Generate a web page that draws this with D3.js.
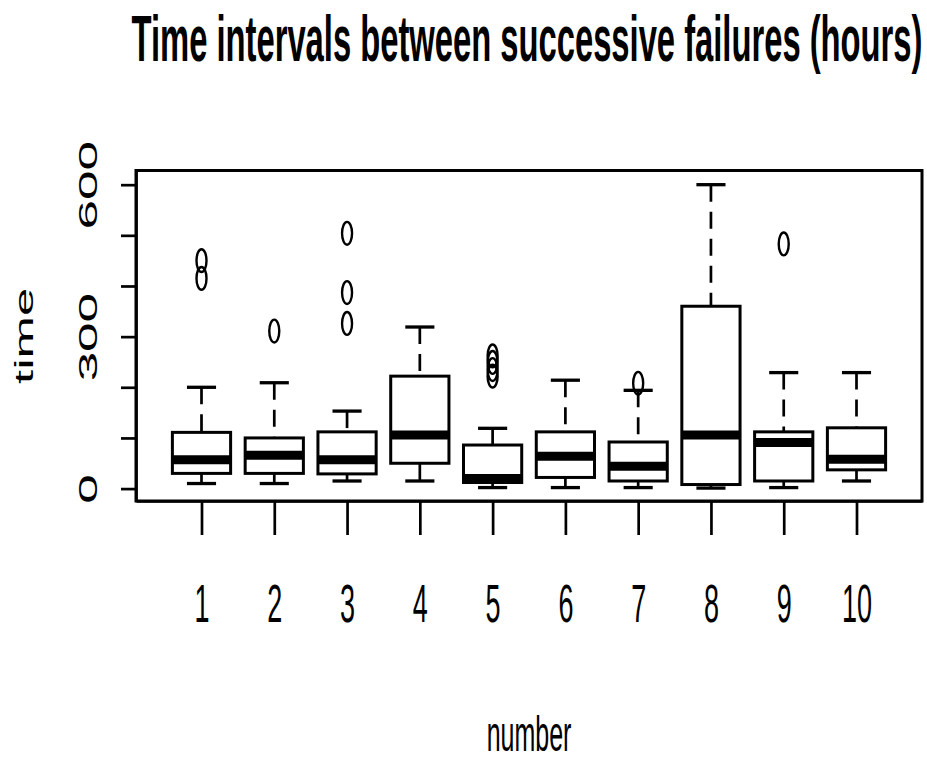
<!DOCTYPE html>
<html><head><meta charset="utf-8">
<script src="https://cdn.jsdelivr.net/npm/d3@7"></script>
<style>
body{margin:0;background:#fff}
svg{display:block}
text{font-family:"Liberation Sans",Arial,sans-serif;fill:#000}
</style></head>
<body><svg id="chart" width="927" height="762"></svg>
<script>
// ---- data ----
const groups = [1, 2, 3, 4, 5, 6, 7, 8, 9, 10];
const whiskerLow  = [10, 10, 15, 15, 2, 2, 2, 1, 2, 15];
const quartile1   = [30, 30, 29, 50, 12, 22, 15, 8, 15, 37];
const medians     = [57, 66, 57, 106, 20, 64, 44, 106, 91, 58];
const quartile3   = [111, 100, 112, 222, 86, 112, 92, 360, 112, 120];
const whiskerHigh = [200, 209, 153, 319, 119, 214, 194, 600, 229, 229];
const outliers    = [[450, 415], [311], [504, 387, 326], [], [262, 249, 235, 222], [], [208], [], [483], []];
const yTicks      = [0, 100, 200, 300, 400, 500, 600];
const yLabelTicks = [0, 300, 600];
const titleText = "Time intervals between successive failures (hours)";
const xTitle = "number";
const yTitle = "time";

// ---- layout ----
const squeeze = 0.5;               // horizontal compression of glyphs
const svg = d3.select("#chart");
const x = d3.scaleLinear().domain([0.1, 10.9]).range([136, 922]);
const y = d3.scaleLinear().domain([-24.5, 628]).range([501, 170.5]);
const boxHalf = 0.4, capHalf = 0.2;
const lw = 2.7;

const data = groups.map((g, i) => ({
  g, lo: whiskerLow[i], q1: quartile1[i], med: medians[i], q3: quartile3[i], hi: whiskerHigh[i], out: outliers[i]
}));

// frame
svg.append("rect")
  .attr("x", x(0.1)).attr("y", y(628))
  .attr("width", x(10.9) - x(0.1)).attr("height", y(-24.5) - y(628))
  .attr("fill", "none").attr("stroke", "#000").attr("stroke-width", 3);

const gb = svg.append("g").attr("fill", "none").attr("stroke", "#000");
const b = gb.selectAll("g.box").data(data).join("g").attr("class", "box");

// whiskers (dashed), drawn from the extreme toward the box
b.append("line")
  .attr("x1", d => x(d.g)).attr("x2", d => x(d.g))
  .attr("y1", d => y(d.hi)).attr("y2", d => y(d.q3))
  .attr("stroke-width", lw).attr("stroke-dasharray", "17,10");
b.append("line")
  .attr("x1", d => x(d.g)).attr("x2", d => x(d.g))
  .attr("y1", d => y(d.lo)).attr("y2", d => y(d.q1))
  .attr("stroke-width", lw).attr("stroke-dasharray", "17,10");
// staples
b.append("line")
  .attr("x1", d => x(d.g - capHalf)).attr("x2", d => x(d.g + capHalf))
  .attr("y1", d => y(d.hi)).attr("y2", d => y(d.hi))
  .attr("stroke-width", 3.3);
b.append("line")
  .attr("x1", d => x(d.g - capHalf)).attr("x2", d => x(d.g + capHalf))
  .attr("y1", d => y(d.lo)).attr("y2", d => y(d.lo))
  .attr("stroke-width", 3.3);
// boxes
b.append("rect")
  .attr("x", d => x(d.g - boxHalf)).attr("width", d => x(d.g + boxHalf) - x(d.g - boxHalf))
  .attr("y", d => y(d.q3)).attr("height", d => y(d.q1) - y(d.q3))
  .attr("fill", "none").attr("stroke-width", 3);
// medians
b.append("line")
  .attr("x1", d => x(d.g - boxHalf)).attr("x2", d => x(d.g + boxHalf))
  .attr("y1", d => y(d.med)).attr("y2", d => y(d.med))
  .attr("stroke-width", 9).attr("stroke-linecap", "butt");
// outliers
b.selectAll("ellipse").data(d => d.out.map(v => ({g: d.g, v}))).join("ellipse")
  .attr("cx", d => x(d.g)).attr("cy", d => y(d.v))
  .attr("rx", 5).attr("ry", 11.4)
  .attr("stroke-width", 2.4);

// y axis
const yAxis = svg.append("g").attr("transform", `translate(${x(0.1)},0)`)
  .call(d3.axisLeft(y).tickValues(yTicks).tickSize(15).tickSizeOuter(0)
    .tickFormat(d => yLabelTicks.includes(d) ? String(d) : ""));
yAxis.selectAll("line").attr("stroke", "#000").attr("stroke-width", lw);
yAxis.select(".domain").attr("stroke", "#000").attr("stroke-width", lw);
yAxis.selectAll("text")
  .attr("x", null).attr("dy", null)
  .attr("fill", "#000")
  .attr("font-family", '"Liberation Sans", Arial, sans-serif')
  .attr("font-size", 53)
  .attr("text-anchor", "middle")
  .attr("transform", `translate(${97 - x(0.1)},0) scale(${squeeze},1) rotate(-90)`);

// x axis
const xAxis = svg.append("g").attr("transform", `translate(0,${y(-24.5)})`)
  .call(d3.axisBottom(x).tickValues(groups).tickSize(34).tickSizeOuter(0).tickFormat(d => String(d)));
xAxis.selectAll("line").attr("stroke", "#000").attr("stroke-width", lw);
xAxis.select(".domain").attr("stroke", "#000").attr("stroke-width", lw);
xAxis.selectAll("text")
  .attr("y", null).attr("dy", null)
  .attr("fill", "#000")
  .attr("font-family", '"Liberation Sans", Arial, sans-serif')
  .attr("font-size", 54)
  .attr("text-anchor", "middle")
  .attr("transform", `translate(0,${622 - y(-24.5)}) scale(${squeeze},1)`);

// titles
const cx = (x(0.1) + x(10.9)) / 2;
svg.append("text")
  .attr("transform", `translate(${cx - 2},61) scale(${squeeze},1)`)
  .attr("text-anchor", "middle").attr("font-size", 65.5).attr("font-weight", "bold")
  .text(titleText);
svg.append("text")
  .attr("transform", `translate(${cx},751) scale(${squeeze},1)`)
  .attr("text-anchor", "middle").attr("font-size", 50)
  .text(xTitle);
svg.append("text")
  .attr("transform", `translate(33,${(y(628) + y(-24.5)) / 2}) scale(${squeeze},1) rotate(-90)`)
  .attr("text-anchor", "middle").attr("font-size", 51)
  .text(yTitle);
</script>
</body></html>
